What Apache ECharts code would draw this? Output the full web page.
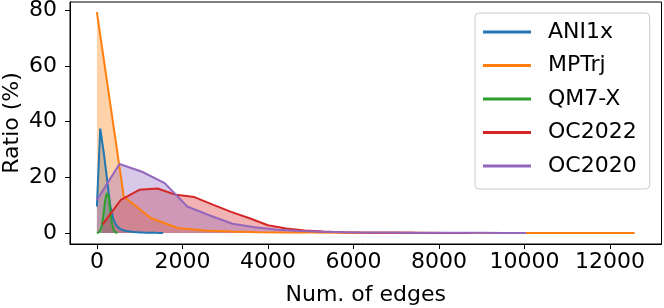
<!DOCTYPE html>
<html>
<head>
<meta charset="utf-8">
<script src="https://cdn.jsdelivr.net/npm/echarts@6/dist/echarts.min.js"></script>
<style>
html,body{margin:0;padding:0;background:#fff;}
#c{width:664px;height:308px;}
</style>
</head>
<body>
<div id="c"></div>
<script>
// ---- data ----
const seriesNames = ['ANI1x', 'MPTrj', 'QM7-X', 'OC2022', 'OC2020'];
const seriesColors = ['#1f77b4', '#ff7f0e', '#2ca02c', '#d62728', '#9467bd'];

const ani1xX = [0, 78, 155, 233, 310, 388, 465, 543, 620, 698, 775, 853, 930, 1008, 1085, 1163, 1240, 1318, 1395, 1473, 1550];
const ani1xY = [9.5, 37.5, 29.5, 20, 10, 4.8, 2.4, 1.5, 1.0, 0.7, 0.5, 0.4, 0.3, 0.2, 0.2, 0.1, 0.1, 0.1, 0.05, 0.03, 0.02];

const mptrjX = [0, 629, 1258, 1887, 2516, 3144, 3773, 4402, 5030, 5659, 6288, 6916, 7545, 8174, 8802, 9431, 10060, 10688, 11317, 11945, 12575];
const mptrjY = [79.3, 13.1, 5.4, 1.8, 0.9, 0.5, 0.3, 0.2, 0.15, 0.1, 0.08, 0.06, 0.05, 0.04, 0.03, 0.02, 0.02, 0.01, 0.01, 0.01, 0.01];

const qm7xX = [0, 24, 48, 72, 96, 120, 144, 168, 192, 216, 240, 264, 288, 312, 336, 360, 384, 408, 432, 456, 480];
const qm7xY = [0, 0.1, 0.3, 0.6, 1.5, 3, 5.5, 8.5, 11.5, 13.5, 14.3, 13.5, 11.8, 8.5, 5, 3, 1.5, 0.6, 0.3, 0.1, 0];

const oc2022X = [130, 560, 990, 1420, 1850, 2280, 2710, 3140, 3570, 4000, 4430, 4860, 5290, 5720, 6150, 6580, 7010, 7440, 7870, 8300, 8730];
const oc2022Y = [3.0, 11.9, 15.5, 16.0, 13.7, 12.9, 10.2, 7.6, 5.3, 2.8, 1.6, 0.9, 0.5, 0.3, 0.2, 0.12, 0.08, 0.05, 0.03, 0.02, 0.01];

const oc2020X = [0, 528, 1056, 1585, 2113, 2641, 3170, 3698, 4226, 4754, 5283, 5811, 6339, 6868, 7396, 7924, 8453, 8981, 9509, 10037];
const oc2020Y = [11.9, 24.8, 22.0, 17.9, 9.5, 6.3, 3.3, 2.1, 1.2, 0.7, 0.45, 0.3, 0.2, 0.15, 0.1, 0.08, 0.06, 0.05, 0.04, 0.03];

const xTicks = [0, 2000, 4000, 6000, 8000, 10000, 12000];
const yTicks = [0, 20, 40, 60, 80];

// ---- build chart ----
const xs = [ani1xX, mptrjX, qm7xX, oc2022X, oc2020X];
const ys = [ani1xY, mptrjY, qm7xY, oc2022Y, oc2020Y];
const FONT = 'DejaVu Sans';
const FS = 22;

function hexA(hex, a) {
  const r = parseInt(hex.slice(1, 3), 16), g = parseInt(hex.slice(3, 5), 16), b = parseInt(hex.slice(5, 7), 16);
  return 'rgba(' + r + ',' + g + ',' + b + ',' + a + ')';
}

const series = seriesNames.map((name, i) => ({
  name: name,
  type: 'line',
  data: xs[i].map((x, j) => [x, ys[i][j]]),
  showSymbol: false,
  symbol: 'none',
  lineStyle: { color: seriesColors[i], width: 2 },
  itemStyle: { color: seriesColors[i] },
  areaStyle: { color: hexA(seriesColors[i], 0.5), origin: 'auto' },
  emphasis: { disabled: true },
  z: 2
}));

const chart = echarts.init(document.getElementById('c'), null, { renderer: 'canvas' });
chart.setOption({
  animation: false,
  backgroundColor: '#ffffff',
  grid: {
    left: 70, right: 2.5, top: 2, bottom: 64,
    show: true, borderColor: '#000', borderWidth: 1, backgroundColor: 'transparent',
    containLabel: false, outerBoundsMode: 'none'
  },
  legend: {
    data: seriesNames,
    orient: 'vertical',
    left: 475, top: 13,
    icon: 'rect',
    itemWidth: 48, itemHeight: 3,
    itemGap: 9.5,
    padding: [7, 13, 11, 8],
    borderColor: '#cccccc', borderWidth: 1, borderRadius: 4,
    backgroundColor: 'rgba(255,255,255,0.8)',
    textStyle: { fontFamily: FONT, fontSize: FS, color: '#000', lineHeight: 24, padding: [0, 0, 0, 12] },
    selectedMode: false
  },
  xAxis: {
    type: 'value',
    min: -629, max: 13204,
    name: 'Num. of edges',
    nameLocation: 'middle',
    nameGap: 40,
    nameMoveOverlap: false,
    nameTextStyle: { fontFamily: FONT, fontSize: FS, color: '#000' },
    axisLine: { show: true, onZero: false, lineStyle: { color: '#000', width: 1 } },
    axisTick: { show: true, length: 5, customValues: xTicks, lineStyle: { color: '#000', width: 1 } },
    axisLabel: { customValues: xTicks, margin: 7, fontFamily: FONT, fontSize: FS, color: '#000', formatter: v => String(v) },
    splitLine: { show: false }
  },
  yAxis: {
    type: 'value',
    min: -3.95, max: 82.95,
    name: 'Ratio (%)',
    nameLocation: 'middle',
    nameGap: 47,
    nameRotate: 90,
    nameMoveOverlap: false,
    nameTextStyle: { fontFamily: FONT, fontSize: FS, color: '#000' },
    axisLine: { show: true, onZero: false, lineStyle: { color: '#000', width: 1 } },
    axisTick: { show: true, length: 5, customValues: yTicks, lineStyle: { color: '#000', width: 1 } },
    axisLabel: { customValues: yTicks, margin: 13, fontFamily: FONT, fontSize: FS, color: '#000', formatter: v => String(v) },
    splitLine: { show: false }
  },
  series: series
});
</script>
</body>
</html>
